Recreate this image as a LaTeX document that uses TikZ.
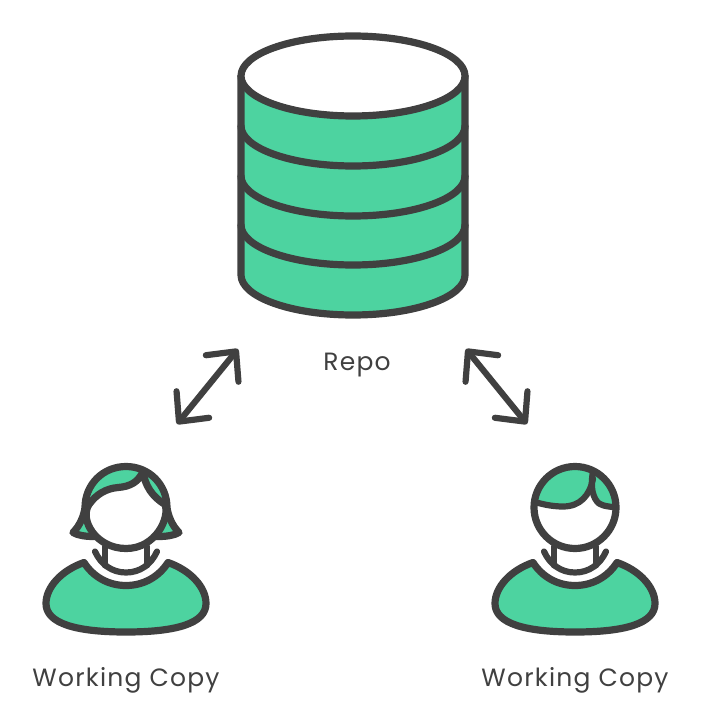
\documentclass[tikz,border=0pt]{standalone}
\usepackage{fontspec}
\usepackage{xcolor}
\usepackage{tikz}
\usetikzlibrary{arrows.meta,positioning}
\setmainfont[LetterSpace=5]{Poppins}
\definecolor{inkgrey}{HTML}{404040}
\definecolor{mintgreen}{HTML}{4DD3A0}
\tikzset{
  outline/.style={
    draw=inkgrey,
    line width=7.2pt,
    line join=round,
    line cap=round
  },
  thinline/.style={
    outline,
    line width=6.2pt
  },
  syncarrow/.style={
    {Straight Barb[round,length=22pt,width=42pt]}-{Straight Barb[round,length=22pt,width=42pt]},
    draw=inkgrey,
    line width=6.2pt,
    line cap=round
  },
  caption/.style={
    text=inkgrey,
    font=\fontsize{25}{30}\selectfont,
    inner sep=0pt
  },
  pics/torso/.style={
    code={
      \draw[outline,fill=mintgreen] (-42,55) .. controls (-65,63) and (-80,80) .. (-80,96)
        .. controls (-80,116) and (-50,124.5) .. (0,124.5)
        .. controls (50,124.5) and (80,116) .. (80,96)
        .. controls (80,80) and (65,63) .. (42,55)
        .. controls (33,69) and (18,78) .. (0,78)
        .. controls (-18,78) and (-33,69) .. (-42,55) -- cycle;
      \draw[thinline] (-21,39) -- (-21,58);
      \draw[thinline] (21,39) -- (21,58);
      \draw[thinline] (-31,44) .. controls (-25,57) and (-14,65) .. (0,65)
        .. controls (14,65) and (25,57) .. (31,44);
    }
  },
  pics/manhead/.style={
    code={
      \fill[white] (0,0) circle[radius=41];
      \begin{scope}
        \clip (0,0) circle[radius=41];
        \fill[mintgreen] (-50,-9) .. controls (-35,-3) and (-22,-1) .. (-12,-1)
          .. controls (5,-1) and (15,-12) .. (18,-29)
          .. controls (16,-18) and (18,-9) .. (24,-4)
          .. controls (29,-1) and (34,-1) .. (50,1) -- (50,-50) -- (-50,-50) -- cycle;
        \draw[thinline] (-50,-9) .. controls (-35,-3) and (-22,-1) .. (-12,-1)
          .. controls (5,-1) and (15,-12) .. (18,-29);
        \draw[thinline] (18,-36) .. controls (15,-20) and (18,-9) .. (24,-4)
          .. controls (29,-1) and (34,-1) .. (50,1);
      \end{scope}
      \draw[outline] (0,0) circle[radius=41];
    }
  },
  pics/womanhead/.style={
    code={
      \draw[outline,fill=mintgreen] (-53,25) .. controls (-46,18) and (-42,8) .. (-41,0)
        .. controls (-41,-23) and (-23,-41) .. (0,-41)
        .. controls (23,-41) and (41,-23) .. (41,0)
        .. controls (42,8) and (46,18) .. (53,25)
        .. controls (48,28) and (40,29) .. (34,29) -- (-34,29)
        .. controls (-40,29) and (-48,28) .. (-53,25) -- cycle;
      \draw[outline,fill=white] (-37,-3) .. controls (-30,-13) and (-20,-19) .. (-8,-20)
        .. controls (4,-21) and (12,-25) .. (17,-36)
        .. controls (19,-22) and (26,-11) .. (39,-3)
        .. controls (44,10) and (30,41) .. (0,41)
        .. controls (-30,41) and (-47,12) .. (-37,-3) -- cycle;
    }
  }
}
\newcommand{\repoband}[1]{(241,#1) .. controls (241,#1+22) and (291,#1+40) .. (353,#1+40)
  .. controls (415,#1+40) and (465,#1+22) .. (465,#1)}
\begin{document}
\begin{tikzpicture}[x=1pt,y=-1pt]
  \useasboundingbox (0,0) rectangle (700,708);

  % repo
  \draw[outline,fill=mintgreen] (241,76) -- (241,275)
    .. controls (241,297) and (291,315) .. (353,315)
    .. controls (415,315) and (465,297) .. (465,275) -- (465,76) -- cycle;
  \draw[outline,fill=white] (353,76) ellipse[x radius=112,y radius=40];
  \draw[outline] \repoband{126};
  \draw[outline] \repoband{176};
  \draw[outline] \repoband{225};
  \node[caption] (repo) at (357,365) {Repo};

  % arrows
  \coordinate (leftup) at (238,349);
  \coordinate (leftdown) at (177,424);
  \coordinate (rightup) at (466,349);
  \coordinate (rightdown) at (527,424);
  \draw[syncarrow] (leftdown) -- (leftup);
  \draw[syncarrow] (rightup) -- (rightdown);

  % people
  \pic (womanbody) at (126,507.5) {torso};
  \pic (womantop) at (126,507.5) {womanhead};
  \pic (manbody) at (575,507.5) {torso};
  \pic (mantop) at (575,507.5) {manhead};
  \node[caption] (womancopy) at (126,680) {Working Copy};
  \node[caption] (mancopy) at (575,680) {Working Copy};
\end{tikzpicture}
\end{document}
